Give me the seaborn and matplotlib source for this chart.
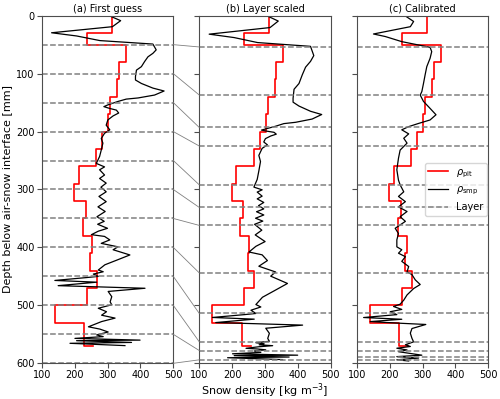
import numpy as np
import pandas as pd
import seaborn as sns
import matplotlib.pyplot as plt
from matplotlib.patches import ConnectionPatch

# pit profile (same in all panels): layer tops, densities, bottom
pit_top = [0, 30, 50, 80, 110, 140, 170, 200, 230, 260, 290, 320, 350, 380, 410, 440, 470, 500, 530]
pit_rho = [313, 237, 355, 334, 330, 309, 302, 284, 265, 212, 198, 234, 225, 252, 247, 267, 237, 140, 230]
pit_bottom = 570
pit_last = 257

# layer boundaries
layers_a = [50, 100, 150, 200, 250, 300, 350, 400, 450, 500, 550, 600]
layers_b = [54, 137, 193, 225, 292, 331, 362, 444, 514, 563, 578, 594]
layers_c = [54, 137, 193, 225, 292, 331, 362, 444, 514, 563, 578, 589, 594]

# smp profile, first guess
smp_rho_a = [305, 340, 315, 130, 206, 277, 358, 438, 448, 438, 423, 413, 403, 388, 385, 385, 403, 438,
             472, 443, 393, 357, 332, 301, 289, 306, 327, 334, 317, 301, 296, 307, 291, 281, 286, 281,
             276, 266, 291, 276, 291, 276, 296, 280, 296, 274, 296, 271, 293, 268, 290, 270, 300, 272,
             251, 291, 307, 281, 332, 317, 368, 328, 292, 272, 287, 257, 272, 237, 140, 267, 150, 267,
             414, 302, 313, 308, 313, 272, 297, 282, 323, 282, 242, 277, 302, 267, 287, 201, 399, 206,
             373, 186, 353]
smp_z_a = [0, 8.6, 19, 29.5, 35, 43, 46, 49, 59, 65, 71, 79, 88, 94, 105, 111, 117, 125,
           130, 137, 142, 144, 148, 154, 157, 160, 163, 168, 173, 180, 189, 197, 203, 212, 220, 232,
           243, 255, 261, 266, 275, 281, 289, 296, 304, 312, 321, 330, 338, 347, 355, 360, 367, 372,
           378, 381, 387, 393, 399, 404, 413, 422, 430, 439, 442, 446, 450, 452, 457, 460, 466, 468,
           470.5, 476, 485, 494, 499, 505, 511, 517, 522, 528, 537, 541, 546, 551, 554, 557, 560, 561,
           564, 565.5, 569.5]

# smp profile, layer scaled
smp_rho_b = [305, 340, 315, 130, 206, 277, 358, 438, 448, 438, 423, 413, 403, 388, 385, 385, 403, 438,
             472, 443, 393, 357, 332, 301, 289, 306, 327, 334, 317, 301, 296, 307, 291, 281, 286, 281,
             276, 266, 291, 276, 291, 276, 296, 280, 296, 274, 296, 271, 293, 268, 290, 270, 300, 272,
             251, 291, 307, 281, 332, 317, 368, 328, 292, 272, 287, 257, 272, 237, 140, 267, 150, 267,
             414, 302, 313, 308, 313, 272, 297, 282, 323, 282, 242, 277, 302, 267, 287, 201, 399, 206,
             373, 186, 353]
smp_z_b = [0, 9.3, 20.5, 31.9, 37.8, 46.4, 49.7, 52.9, 68.9, 78.9, 88.9, 102.1, 117.1, 127, 142.6, 149.3, 156, 165,
           170.6, 178.4, 184, 186.3, 190.8, 195.6, 197.5, 199.4, 201.3, 204.5, 207.7, 212.2, 218, 223, 229, 241.1, 251.8, 267.9,
           282.6, 295.9, 300.6, 304.5, 311.5, 316.2, 322.4, 327.9, 333.5, 338.4, 344, 349.6, 354.6, 360.1, 370.2, 378.4, 389.9, 398.1,
           407.9, 412.8, 422.7, 432.5, 442.4, 449.6, 462.2, 474.8, 486, 498.6, 502.8, 508.4, 514, 516, 520.9, 523.8, 529.7, 531.6,
           534.1, 539.5, 548.3, 557.1, 562, 564.5, 566.3, 568.1, 569.6, 571.4, 574.1, 575.3, 576.8, 578.8, 581.2, 583.6, 586, 586.8,
           589.2, 590.4, 593.6]

# smp profile, calibrated
smp_rho_c = [248, 273, 263, 151, 187, 237, 288, 323, 328, 323, 313, 308, 303, 298, 293, 303, 323, 341,
             323, 288, 258, 237, 258, 243, 253, 232, 227, 222, 227, 232, 243, 227, 248, 227, 253, 232,
             248, 217, 227, 222, 222, 237, 227, 248, 237, 258, 253, 268, 278, 293, 273, 253, 243, 232,
             212, 237, 202, 222, 121, 237, 141, 237, 310, 268, 263, 268, 273, 248, 263, 222, 253, 227,
             298, 222, 288, 222, 258]
smp_z_c = [0.5, 10, 19, 31.6, 36, 44.8, 50.6, 54.6, 62, 73.6, 88, 102, 117, 131, 137, 148, 160, 171,
           180, 186, 191.5, 197, 204, 211.6, 220, 232, 246, 266, 284, 292, 304, 312, 321, 330, 338, 347,
           355, 367, 376, 387, 399, 404, 410, 416, 424, 433, 442, 447, 456, 464, 471, 482, 491, 498,
           502, 507, 511, 516, 521, 524, 528, 531, 533, 540, 548, 557, 563, 568, 571, 574, 577, 580,
           586, 588.5, 591, 594, 596]

titles = ["(a) First guess", "(b) Layer scaled", "(c) Calibrated"]

# step outline of the pit profile
pit_bot = pit_top[1:] + [pit_bottom]
pit_x = list(np.repeat(pit_rho, 2)) + [pit_last]
pit_y = list(np.ravel(np.column_stack([pit_top, pit_bot]))) + [pit_bottom]
pit_df = pd.DataFrame({'rho': pit_x, 'z': pit_y})

plt.rcParams['font.family'] = ['DejaVu Sans']
plt.rcParams['axes.edgecolor'] = '0.3'
plt.rcParams['xtick.color'] = '0.3'
plt.rcParams['ytick.color'] = '0.3'
plt.rcParams['xtick.labelcolor'] = 'black'
plt.rcParams['ytick.labelcolor'] = 'black'

fig = plt.figure(figsize=(5, 3.99), dpi=100)
w, h, bot = 0.2632, 0.8712, 0.0895
lefts = [0.0834, 0.3986, 0.7134]
axes = [fig.add_axes([l, bot, w, h]) for l in lefts]

smp = [(smp_z_a, smp_rho_a), (smp_z_b, smp_rho_b), (smp_z_c, smp_rho_c)]
layers = [layers_a, layers_b, layers_c]

for i, ax in enumerate(axes):
    sns.lineplot(data=pit_df, x='rho', y='z', sort=False, estimator=None, color='red',
                 lw=1.2, ax=ax, label=r'$\rho_{\mathrm{pit}}$')
    sns.lineplot(x=smp[i][1], y=smp[i][0], sort=False, estimator=None, color='black',
                 lw=0.9, ax=ax, label=r'$\rho_{\mathrm{smp}}$')
    for j, d in enumerate(layers[i]):
        ax.axhline(d, color='gray', ls='--', lw=1.1, label='Layer' if j == 0 else None)
    ax.set_xlim(100, 500)
    ax.set_ylim(600, 0)
    ax.set_xticks([100, 200, 300, 400, 500])
    ax.set_yticks([0, 100, 200, 300, 400, 500, 600])
    ax.tick_params(labelsize=7, pad=1.5)
    ax.set_title(titles[i], fontsize=7, pad=3)
    ax.set_xlabel('')
    ax.set_ylabel('')
    if i > 0:
        ax.set_yticklabels([])
    if ax.get_legend() is not None and i < 2:
        ax.get_legend().remove()

axes[0].set_ylabel('Depth below air-snow interface [mm]', fontsize=8, labelpad=2)
axes[1].set_xlabel(r'Snow density [kg m$^{-3}$]', fontsize=8, labelpad=1)
axes[2].legend(loc='center right', fontsize=7, borderaxespad=0.15)

# connecting lines between first guess and layer scaled boundaries
for da, db in zip(layers_a, layers_b):
    con = ConnectionPatch(xyA=(500, da), coordsA=axes[0].transData,
                          xyB=(100, db), coordsB=axes[1].transData,
                          color='gray', lw=0.6)
    fig.add_artist(con)

fig.savefig('out.png', dpi=100)
